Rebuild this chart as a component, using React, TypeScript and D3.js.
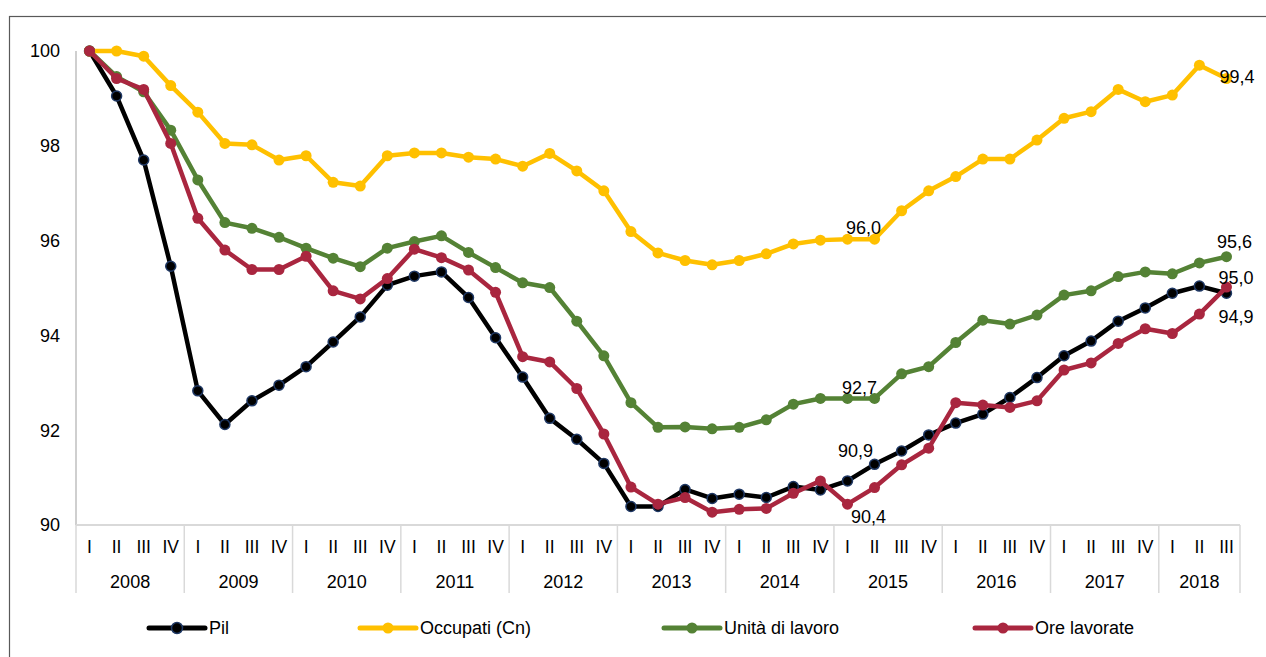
import React from "react";
import * as d3 from "d3";

const years = ["2008","2009","2010","2011","2012","2013","2014","2015","2016","2017","2018"];
const quarters = ["I","II","III","IV"];
const categories: { year: string; q: string }[] = [];
years.forEach((y) => quarters.forEach((q) => categories.push({ year: y, q })));
const cats = categories.slice(0, 43);

const pil = [100,99.05,97.70,95.46,92.83,92.12,92.62,92.95,93.34,93.86,94.39,95.06,95.25,95.34,94.80,93.95,93.12,92.25,91.81,91.30,90.39,90.39,90.75,90.56,90.65,90.58,90.81,90.74,90.93,91.28,91.56,91.90,92.15,92.34,92.69,93.11,93.57,93.88,94.30,94.58,94.89,95.04,94.89];
const occupati = [100,100.0,99.89,99.27,98.71,98.05,98.02,97.70,97.79,97.23,97.15,97.79,97.85,97.85,97.76,97.72,97.57,97.84,97.47,97.05,96.19,95.74,95.58,95.49,95.58,95.72,95.93,96.01,96.03,96.03,96.63,97.05,97.35,97.72,97.72,98.12,98.58,98.72,99.19,98.93,99.07,99.70,99.42];
const unita = [100,99.46,99.14,98.33,97.28,96.38,96.26,96.07,95.84,95.63,95.45,95.84,95.98,96.10,95.75,95.43,95.11,95.01,94.30,93.57,92.58,92.06,92.07,92.03,92.06,92.22,92.55,92.67,92.67,92.67,93.19,93.34,93.85,94.32,94.24,94.43,94.85,94.94,95.24,95.34,95.30,95.53,95.66];
const ore = [100,99.42,99.19,98.05,96.47,95.80,95.39,95.39,95.67,94.94,94.77,95.20,95.82,95.64,95.38,94.91,93.55,93.44,92.88,91.92,90.80,90.44,90.58,90.27,90.33,90.35,90.67,90.93,90.44,90.79,91.27,91.62,92.58,92.53,92.48,92.62,93.27,93.42,93.83,94.14,94.04,94.45,95.02];
const yTicks = [90, 92, 94, 96, 98, 100];

const series = [
  { name: "Pil", values: pil, color: "#000000", marker: "#000000", markerStroke: "#1F3864" },
  { name: "Occupati (Cn)", values: occupati, color: "#FFC000", marker: "#FFC000", markerStroke: "#FFC000" },
  { name: "Unità di lavoro", values: unita, color: "#548235", marker: "#548235", markerStroke: "#548235" },
  { name: "Ore lavorate", values: ore, color: "#A9263F", marker: "#A9263F", markerStroke: "#A9263F" },
];

// annotations: [series index, point index, label, dx, dy, anchor]
const labels: [number, number, string, number, number, string][] = [
  [1, 42, "99,4", -7, 5, "start"],
  [2, 42, "95,6", 8, -9, "middle"],
  [3, 42, "95,0", -8, -3, "start"],
  [0, 42, "94,9", -8, 30, "start"],
  [1, 28, "96,0", 16, -5, "middle"],
  [2, 28, "92,7", 12, -4, "middle"],
  [0, 28, "90,9", 8, -24, "middle"],
  [3, 28, "90,4", 21, 19, "middle"],
];

export default function App() {
  const W = 1266, H = 657;
  const left = 76, right = 1240, top = 51, bottom = 525;
  const x = d3.scaleBand<number>().domain(d3.range(cats.length)).range([left, right]);
  const cx = (i: number) => (x(i) as number) + x.bandwidth() / 2;
  const y = d3.scaleLinear().domain([90, 100]).range([bottom, top]);
  const line = d3.line<number>().x((_, i) => cx(i)).y((v) => y(v));
  const font = "'Liberation Sans', Arial, sans-serif";

  const yearGroups = years.map((yr) => {
    const idx = cats.map((c, i) => (c.year === yr ? i : -1)).filter((i) => i >= 0);
    const x0 = x(idx[0]) as number;
    const x1 = (x(idx[idx.length - 1]) as number) + x.bandwidth();
    return { yr, x0, x1 };
  });

  const legendX = [149, 360, 664, 975];
  const legendY = 628;

  return (
    <svg width={W} height={H} style={{ position: "absolute", left: 0, top: 0, background: "#fff" }} fontFamily={font}>
      <rect x={9.5} y={16.5} width={W} height={H} fill="none" stroke="#595959" strokeWidth={1.2} />
      {/* y axis */}
      <line x1={left} x2={left} y1={top} y2={bottom} stroke="#BFBFBF" strokeWidth={1.5} />
      {yTicks.map((t) => (
        <text key={t} x={60} y={y(t)} dy="0.35em" textAnchor="end" fontSize={18} fill="#000">{t}</text>
      ))}
      {/* x axis */}
      <line x1={left} x2={right} y1={bottom} y2={bottom} stroke="#D9D9D9" strokeWidth={2} />
      {yearGroups.map((g, k) => (
        <g key={g.yr}>
          <line x1={g.x0} x2={g.x0} y1={bottom} y2={593} stroke="#D9D9D9" strokeWidth={1.5} />
          {k === yearGroups.length - 1 && (
            <line x1={g.x1} x2={g.x1} y1={bottom} y2={593} stroke="#D9D9D9" strokeWidth={1.5} />
          )}
          <text x={(g.x0 + g.x1) / 2} y={588} textAnchor="middle" fontSize={18} fill="#000">{g.yr}</text>
        </g>
      ))}
      {cats.map((c, i) => (
        <text key={i} x={cx(i)} y={553} textAnchor="middle" fontSize={17.5} fill="#000">{c.q}</text>
      ))}
      {/* series */}
      {series.map((s) => (
        <g key={s.name}>
          <path d={line(s.values) as string} fill="none" stroke={s.color} strokeWidth={4.5} strokeLinejoin="round" />
          {s.values.map((v, i) => (
            <circle key={i} cx={cx(i)} cy={y(v)} r={s.name === "Pil" ? 5 : 5.5} fill={s.marker} stroke={s.markerStroke} strokeWidth={s.name === "Pil" ? 1.5 : 0} />
          ))}
        </g>
      ))}
      {labels.map(([si, pi, t, dx, dy, anchor], k) => (
        <text key={k} x={cx(pi) + dx} y={y(series[si].values[pi]) + dy} textAnchor={anchor as any} fontSize={18} fill="#000">{t}</text>
      ))}
      {/* legend */}
      {series.map((s, k) => (
        <g key={s.name}>
          <line x1={legendX[k]} x2={legendX[k] + 56} y1={legendY} y2={legendY} stroke={s.color} strokeWidth={5} strokeLinecap="round" />
          <circle cx={legendX[k] + 28} cy={legendY} r={5.5} fill={s.marker} stroke={s.markerStroke} strokeWidth={s.name === "Pil" ? 1.5 : 0} />
          <text x={legendX[k] + 60} y={legendY} dy="0.35em" fontSize={18} fill="#000">{s.name}</text>
        </g>
      ))}
    </svg>
  );
}
